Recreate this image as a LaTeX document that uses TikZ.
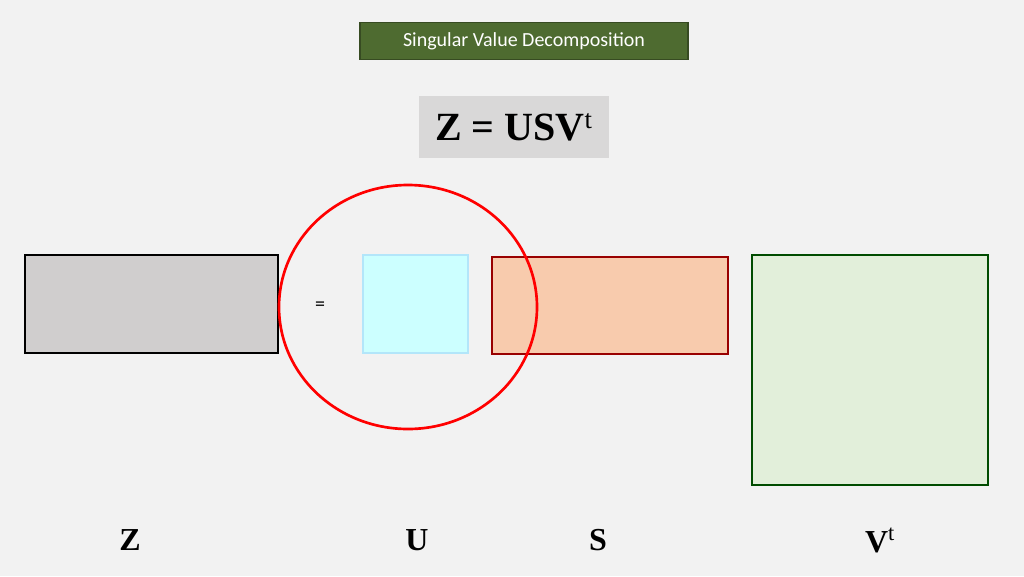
\documentclass[tikz,border=0pt]{standalone}
\usepackage{fontspec}
\setmainfont{Liberation Serif}
\newfontfamily\calib{Carlito}
\definecolor{bgcol}{HTML}{F2F2F2}
\definecolor{titlegreen}{HTML}{4E6B30}
\definecolor{zfill}{HTML}{D0CECE}
\definecolor{ufill}{HTML}{CCFFFF}
\definecolor{sfill}{HTML}{F8CBAD}
\definecolor{vfill}{HTML}{E2EFDA}
\tikzset{
  matbox/.style={thick},
  matlabel/.style={font=\bfseries\fontsize{24}{28}\selectfont, anchor=center}
}
\begin{document}
\begin{tikzpicture}[x=0.75pt, y=-0.75pt]
    % Background
    \fill[bgcol] (0,0) rectangle (1024,576);
    \useasboundingbox (0,0) rectangle (1024,576);
    % Title
    \node[draw=titlegreen!70!black, line width=1.2pt, fill=titlegreen,
      minimum width=246pt, minimum height=28pt, text=white,
      font=\calib\fontsize{15}{18}\selectfont] (title) at (524,41)
      {Singular Value Decomposition};
    % Formula
    \node[fill=zfill!80!white, minimum width=142pt, minimum height=47pt,
      font=\bfseries\fontsize{30}{34}\selectfont] (formula) at (514,127)
      {Z = USV\textsuperscript{\normalfont\fontsize{20}{22}\selectfont t}};
    % Matrices
    \draw[matbox, draw=black, fill=zfill] (25,255) rectangle (278,353);
    \draw[matbox, draw=cyan!30!white, fill=ufill] (363,255) rectangle (468,353);
    \draw[matbox, draw=red!60!black, fill=sfill] (492,257) rectangle (728,354);
    \draw[matbox, draw=green!30!black, fill=vfill] (752,255) rectangle (988,485);
    \node[font=\calib\fontsize{15}{18}\selectfont] (eq) at (320,306) {=};
    % Highlight
    \draw[red, line width=2pt] (408,307) ellipse [x radius=129, y radius=122];
    % Labels
    \node[matlabel] (zlab) at (130,540) {Z};
    \node[matlabel] (ulab) at (417,540) {U};
    \node[matlabel] (slab) at (598,540) {S};
    \node[matlabel] (vlab) at (880,540) {V\textsuperscript{\normalfont t}};
\end{tikzpicture}
\end{document}
